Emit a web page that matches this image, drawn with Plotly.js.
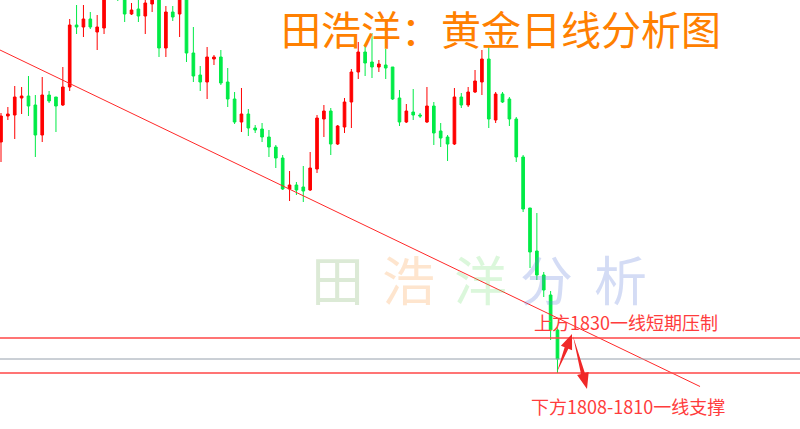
<!DOCTYPE html>
<html>
<head>
<meta charset="utf-8">
<script src="https://cdn.plot.ly/plotly-3.0.1.min.js"></script>
<style>html,body{margin:0;padding:0;background:#fff;}#chart{width:800px;height:429px;}</style>
</head>
<body>
<div id="chart"></div>
<script>
// Daily gold candles
const open = [1947.6,1963.2,1963.8,1974.0,1975.2,1969.8,1951.8,1975.8,1974.6,1969.8,
  1980.6,2017.8,2016.6,2021.4,2013.6,2016.0,2038.0,2048.0,2038.0,2024.4,
  2027.4,2023.2,2030.4,2036.4,2004.0,2025.6,2024.4,2036.0,2001.0,1987.8,
  1983.6,1997.4,1998.6,1983.6,1973.4,1959.6,1964.4,1956.0,1955.4,1950.6,
  1944.6,1938.0,1919.4,1921.8,1920.6,1918.8,1931.4,1961.4,1966.2,1946.4,
  1956.6,1971.6,1989.6,2001.6,1995.6,1992.6,1993.8,1992.6,1974.0,1959.6,
  1965.6,1963.8,1959.6,1969.2,1954.2,1950.6,1946.4,1974.6,1969.8,1977.6,
  1983.6,1997.4,1960.8,1976.4,1973.4,1961.4,1938.6,1908.0,1882.2,1867.8,
  1855.8,1834.8];
const high = [1965.0,1968.6,1981.2,1980.6,1987.2,1975.8,1986.6,1978.2,1974.6,1992.6,
  2021.4,2029.8,2029.8,2025.6,2023.8,2041.8,2050.0,2052.0,2042.0,2031.0,
  2034.0,2034.0,2039.0,2040.0,2029.2,2029.2,2040.0,2041.0,2016.6,1993.2,
  2004.6,1999.8,2002.8,1992.0,1977.6,1980.0,1967.4,1957.8,1959.0,1954.8,
  1945.8,1939.8,1930.2,1923.6,1933.2,1941.6,1963.8,1969.8,1968.0,1957.8,
  1974.0,1991.4,2007.6,2005.8,2013.0,1996.8,2003.4,1992.6,1978.8,1970.4,
  1979.4,1965.0,1980.6,1971.6,1959.0,1951.8,1980.0,1977.0,1980.6,1990.8,
  2002.8,2005.8,1977.6,1977.6,1974.6,1962.6,1939.8,1908.0,1905.0,1869.6,
  1858.2,1836.6];
const low = [1935.6,1960.8,1949.4,1964.4,1963.2,1938.6,1947.6,1971.0,1953.6,1969.2,
  1978.2,2012.4,2010.6,2015.4,2002.8,2012.4,2034.0,2032.2,2019.6,2023.8,
  2019.6,2012.4,2025.6,1998.6,1998.6,2020.2,2010.6,1995.6,1983.6,1978.2,
  1973.4,1993.8,1981.8,1968.6,1958.4,1953.6,1951.2,1953.0,1947.6,1938.6,
  1932.0,1918.8,1912.2,1915.8,1911.6,1918.2,1929.0,1950.6,1939.8,1945.8,
  1953.0,1956.0,1985.4,1987.2,1986.0,1989.6,1985.4,1972.8,1957.2,1959.0,
  1960.8,1962.0,1959.0,1945.8,1944.6,1936.2,1945.8,1968.0,1968.6,1977.0,
  1975.8,1956.0,1959.0,1971.0,1957.2,1935.6,1905.6,1872.0,1864.8,1854.6,
  1828.8,1809.0];
const close = [1963.2,1964.4,1974.6,1975.2,1969.2,1951.8,1975.8,1972.2,1969.2,1980.6,
  2017.8,2016.6,2021.4,2016.6,2016.6,2037.6,2046.0,2040.0,2024.4,2026.8,
  2023.2,2031.0,2035.8,2004.0,2025.6,2022.6,2036.0,2001.0,1987.2,1983.6,
  1998.6,1998.6,1983.0,1973.4,1959.6,1964.4,1956.0,1954.8,1950.6,1944.6,
  1938.0,1919.4,1921.8,1918.8,1918.2,1932.0,1962.0,1966.2,1946.4,1957.2,
  1971.6,1989.6,2001.6,1995.0,1992.6,1994.4,1992.0,1973.4,1959.6,1966.2,
  1963.8,1963.2,1969.2,1953.0,1950.0,1946.4,1974.6,1969.8,1977.6,1984.2,
  1997.4,1961.4,1976.4,1971.6,1961.4,1938.6,1907.4,1881.6,1867.8,1858.8,
  1834.8,1817.4];

const resistance = 1830;      // 上方1830一线
const lastPrice = 1817.4;     // current price line
const support = 1809;         // 下方1808-1810一线
const trendStart = [-0.15, 2002.8];
const trendEnd = [101.75, 1800.9];

const titleText = '田浩洋：黄金日线分析图';
const upperLabel = '上方1830一线短期压制';
const lowerLabel = '下方1808-1810一线支撑';
const wmChars = ['田','浩','洋','分','析'];

const x = open.map((_, i) => i);
const W = 800, H = 429;
const RED = 'rgb(255,0,0)', GREEN = 'rgb(0,235,70)';

function arrowPath(tx, ty, px, py, headLen, headHalf, shaftHalf) {
  const dx = px - tx, dy = py - ty, L = Math.hypot(dx, dy);
  const ux = dx / L, uy = dy / L, nx = -uy, ny = ux;
  const bx = px - ux * headLen, by = py - uy * headLen;
  const pts = [[tx, ty], [bx + nx * shaftHalf, by + ny * shaftHalf], [bx + nx * headHalf, by + ny * headHalf],
    [px, py], [bx - nx * headHalf, by - ny * headHalf], [bx - nx * shaftHalf, by - ny * shaftHalf]];
  return 'M' + pts.map(p => (p[0] / W).toFixed(5) + ',' + (1 - p[1] / H).toFixed(5)).join(' L') + ' Z';
}

const trace = {
  type: 'candlestick', x: x, open: open, high: high, low: low, close: close,
  increasing: {line: {color: RED, width: 1}, fillcolor: RED},
  decreasing: {line: {color: GREEN, width: 1}, fillcolor: GREEN},
  whiskerwidth: 0, hoverinfo: 'skip'
};

const wmColors = ['rgba(140,185,120,0.30)','rgba(250,150,60,0.25)','rgba(110,225,110,0.25)',
  'rgba(100,130,220,0.28)','rgba(100,130,220,0.28)'];
const wmX = [337, 408, 480, 546, 620];

const annotations = [
  {text: titleText, xref: 'paper', yref: 'paper', x: 501.5 / W, y: 1 - 28 / H, xanchor: 'center', yanchor: 'middle',
   showarrow: false, font: {family: 'Noto Sans CJK SC', size: 40, color: '#ff8000'}},
  {text: upperLabel, xref: 'paper', yref: 'paper', x: 532 / W, y: 1 - 322 / H, xanchor: 'left', yanchor: 'middle',
   showarrow: false, font: {family: 'Noto Sans CJK SC', size: 18, color: 'rgb(255,60,60)'}},
  {text: lowerLabel, xref: 'paper', yref: 'paper', x: 529 / W, y: 1 - 406 / H, xanchor: 'left', yanchor: 'middle',
   showarrow: false, font: {family: 'Noto Sans CJK SC', size: 18, color: 'rgb(255,60,60)'}}
];
wmChars.forEach((c, i) => annotations.push({
  text: c, xref: 'paper', yref: 'paper', x: wmX[i] / W, y: 1 - 278 / H, xanchor: 'center', yanchor: 'middle',
  showarrow: false, font: {family: 'Noto Sans CJK SC', size: 53, color: wmColors[i]}
}));

const shapes = [
  {type: 'line', xref: 'x', yref: 'y', x0: trendStart[0], y0: trendStart[1], x1: trendEnd[0], y1: trendEnd[1],
   line: {color: 'rgb(255,40,40)', width: 1}},
  {type: 'line', xref: 'paper', yref: 'y', x0: 0, x1: 1, y0: resistance, y1: resistance, line: {color: 'rgb(255,70,70)', width: 1.5}},
  {type: 'line', xref: 'paper', yref: 'y', x0: 0, x1: 1, y0: lastPrice, y1: lastPrice, line: {color: 'rgb(150,160,172)', width: 1}},
  {type: 'line', xref: 'paper', yref: 'y', x0: 0, x1: 1, y0: support, y1: support, line: {color: 'rgb(255,70,70)', width: 1.5}},
  {type: 'path', xref: 'paper', yref: 'paper', path: arrowPath(557, 372, 572, 334, 15, 6, 2),
   fillcolor: 'rgb(240,40,40)', line: {width: 0}},
  {type: 'path', xref: 'paper', yref: 'paper', path: arrowPath(573, 336, 587, 389, 16, 6, 2),
   fillcolor: 'rgb(240,40,40)', line: {width: 0}}
];

const layout = {
  width: W, height: H, margin: {l: 0, r: 0, t: 0, b: 0},
  paper_bgcolor: '#ffffff', plot_bgcolor: '#ffffff', showlegend: false,
  boxgap: 0.45,
  xaxis: {range: [-0.1456, 116.3], visible: false, rangeslider: {visible: false}, fixedrange: true},
  yaxis: {range: [1775.4, 2032.8], visible: false, fixedrange: true},
  annotations: annotations, shapes: shapes
};

Plotly.newPlot('chart', [trace], layout, {displayModeBar: false, staticPlot: true});
</script>
</body>
</html>
